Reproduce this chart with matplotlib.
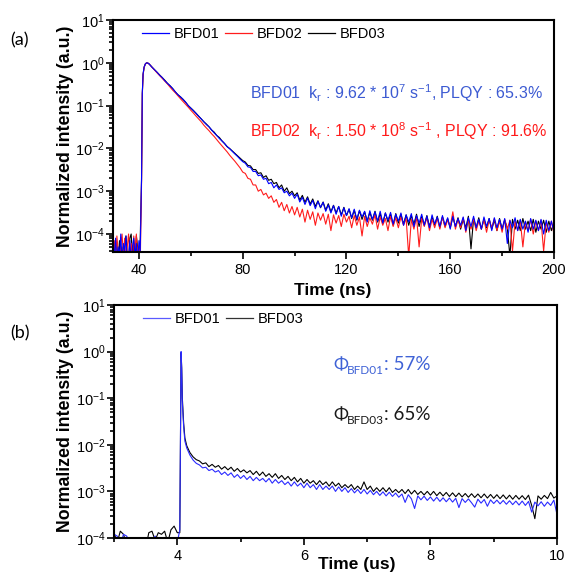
import numpy as np
import matplotlib
matplotlib.use('Agg')
import matplotlib.pyplot as plt
from matplotlib.ticker import LogLocator, MultipleLocator, NullFormatter, LogFormatterSciNotation
from matplotlib.lines import Line2D

plt.rcParams['font.family'] = ['Liberation Sans', 'DejaVu Sans']
plt.rcParams['mathtext.fontset'] = 'custom'
plt.rcParams['mathtext.rm'] = 'Liberation Sans'
plt.rcParams['mathtext.it'] = 'Liberation Sans:italic'
plt.rcParams['mathtext.bf'] = 'Liberation Sans:bold'

# ---------------- data: panel (a), time in ns ----------------
time_a = np.concatenate([np.linspace(30, 40.5, 22),
                         [41.0, 41.3, 41.6, 42.0, 42.5, 43.0, 43.5],
                         np.linspace(44, 200, 157)])

bfd01_a = [
    6e-5, 3e-5, 8e-5, 2e-5, 5e-5, 3e-5, 1e-4, 2e-5, 6e-5, 4e-5,
    9e-5, 2e-5, 3e-5, 7e-5, 2e-5, 5e-5, 8e-5, 3e-5, 6e-5, 2e-5,
    7e-5, 4e-5,
    2e-3, 0.2, 0.55, 0.8, 0.95, 1.0, 0.98,
    0.93, 0.79, 0.69, 0.60, 0.51, 0.45, 0.38, 0.33, 0.29, 0.25,
    0.21, 0.18, 0.16, 0.14, 0.12, 0.10, 0.087, 0.076, 0.066, 0.056,
    0.049, 0.042, 0.036, 0.032, 0.027, 0.023, 0.020, 0.017, 0.015, 0.013,
    0.011, 0.0098, 0.0085, 0.0074, 0.0065, 0.0056, 0.0049, 0.0045, 0.0037, 0.0036,
    0.0029, 0.0029, 0.0023, 0.0024, 0.0019, 0.0020, 0.0015, 0.0016, 0.0012, 0.0014,
    0.0011, 0.0012, 0.00092, 0.0010, 0.00078, 0.00090, 0.00068,
    8.5e-4, 5.6e-4, 7.2e-4, 4.9e-4, 6.9e-4, 4.6e-4, 6.1e-4, 3.9e-4, 5.8e-4, 4.2e-4,
    5.5e-4, 3.4e-4, 4.8e-4, 3.1e-4, 4.6e-4, 2.9e-4, 4.4e-4, 2.6e-4, 4.1e-4, 2.7e-4,
    3.9e-4, 2.4e-4, 3.8e-4, 2.2e-4, 3.6e-4, 2.5e-4, 3.4e-4, 1.9e-4, 3.5e-4, 2.2e-4,
    3.3e-4, 2.0e-4, 3.4e-4, 1.8e-4, 3.1e-4, 2.1e-4, 3.2e-4, 1.7e-4, 2.9e-4, 2.0e-4,
    3.1e-4, 1.6e-4, 2.8e-4, 1.9e-4, 3.0e-4, 1.5e-4, 2.7e-4, 1.8e-4, 2.9e-4, 1.6e-4,
    2.6e-4, 1.4e-4, 2.8e-4, 1.7e-4, 2.5e-4, 1.5e-4, 2.7e-4, 1.6e-4, 2.4e-4, 1.3e-4,
    2.6e-4, 1.5e-4, 2.3e-4, 1.6e-4, 2.5e-4, 1.2e-4, 2.4e-4, 1.5e-4, 2.6e-4, 1.4e-4,
    2.2e-4, 1.3e-4, 2.5e-4, 1.5e-4, 2.3e-4, 1.2e-4, 2.4e-4, 1.4e-4, 2.2e-4, 1.3e-4,
    2.3e-4, 6.0e-5, 2.1e-4, 1.4e-4, 2.4e-4, 1.2e-4, 2.2e-4, 1.3e-4, 2.0e-4, 1.1e-4,
    2.3e-4, 1.3e-4, 2.1e-4, 1.2e-4, 2.2e-4, 1.0e-4, 2.1e-4, 1.2e-4, 2.0e-4, 1.1e-4,
]

bfd02_a = [
    3e-5, 7e-5, 2e-5, 9e-5, 4e-5, 2e-5, 6e-5, 1e-4, 3e-5, 8e-5,
    2e-5, 5e-5, 1e-4, 3e-5, 6e-5, 2e-5, 9e-5, 4e-5, 1e-4, 3e-5,
    5e-5, 2e-5,
    1.5e-3, 0.18, 0.52, 0.78, 0.94, 1.0, 0.98,
    0.93, 0.79, 0.68, 0.58, 0.50, 0.43, 0.37, 0.32, 0.27, 0.23,
    0.20, 0.17, 0.145, 0.125, 0.107, 0.092, 0.078, 0.067, 0.057, 0.049,
    0.042, 0.035, 0.030, 0.026, 0.022, 0.019, 0.016, 0.0135, 0.0115, 0.0098,
    0.0083, 0.0069, 0.0059, 0.0050, 0.0042, 0.0035, 0.0028, 0.0026, 0.0020, 0.0019,
    0.0014, 0.0014, 0.0010, 0.0011, 0.00082, 0.00090, 0.00068, 0.00078, 0.00055, 0.00064,
    0.00042, 0.00055, 0.00035, 0.00049, 0.00031, 0.00044, 0.00028,
    4.2e-4, 2.5e-4, 3.8e-4, 1.9e-4, 3.6e-4, 2.2e-4, 3.3e-4, 1.6e-4, 3.1e-4, 2.1e-4,
    3.0e-4, 1.7e-4, 2.9e-4, 1.2e-4, 2.8e-4, 1.8e-4, 2.7e-4, 1.5e-4, 2.9e-4, 1.9e-4,
    2.6e-4, 1.4e-4, 2.7e-4, 1.6e-4, 2.5e-4, 9.0e-5, 2.6e-4, 1.5e-4, 2.4e-4, 1.7e-4,
    2.8e-4, 1.3e-4, 2.5e-4, 1.6e-4, 2.3e-4, 1.2e-4, 2.6e-4, 1.5e-4, 2.4e-4, 1.4e-4,
    2.5e-4, 1.6e-4, 2.3e-4, 3.0e-5, 2.2e-4, 1.3e-4, 2.5e-4, 5.0e-5, 2.3e-4, 1.5e-4,
    2.4e-4, 1.2e-4, 2.2e-4, 1.4e-4, 2.3e-4, 1.3e-4, 2.5e-4, 1.4e-4, 2.1e-4, 1.5e-4,
    3.3e-4, 1.3e-4, 2.2e-4, 1.4e-4, 2.4e-4, 1.1e-4, 2.1e-4, 1.3e-4, 2.3e-4, 1.2e-4,
    2.0e-4, 1.3e-4, 2.2e-4, 1.1e-4, 2.1e-4, 1.4e-4, 2.3e-4, 1.2e-4, 2.0e-4, 1.1e-4,
    2.2e-4, 1.3e-4, 2.1e-4, 4.0e-5, 2.0e-4, 1.2e-4, 2.1e-4, 5.0e-5, 1.9e-4, 1.2e-4,
    2.2e-4, 1.0e-4, 2.0e-4, 1.2e-4, 2.1e-4, 4.0e-5, 1.9e-4, 1.1e-4, 2.0e-4, 1.0e-4,
]

bfd03_a = [
    5e-5, 2e-5, 4e-5, 6e-5, 2e-5, 7e-5, 3e-5, 5e-5, 2e-5, 6e-5,
    9e-5, 3e-5, 2e-5, 8e-5, 1e-4, 3e-5, 6e-5, 2e-5, 9e-5, 5e-5,
    2e-5, 8e-5,
    1.8e-3, 0.19, 0.54, 0.79, 0.95, 1.0, 0.98,
    0.93, 0.80, 0.69, 0.60, 0.52, 0.45, 0.39, 0.33, 0.29, 0.25,
    0.21, 0.18, 0.16, 0.14, 0.12, 0.10, 0.088, 0.077, 0.066, 0.057,
    0.049, 0.042, 0.037, 0.032, 0.027, 0.024, 0.020, 0.018, 0.015, 0.013,
    0.011, 0.0099, 0.0087, 0.0076, 0.0067, 0.0059, 0.0052, 0.0048, 0.0040, 0.0039,
    0.0032, 0.0032, 0.0026, 0.0027, 0.0021, 0.0023, 0.0018, 0.0019, 0.0015, 0.0016,
    0.0012, 0.0014, 0.0010, 0.0012, 0.00088, 0.0010, 0.00078,
    9.2e-4, 6.2e-4, 8.0e-4, 5.5e-4, 7.4e-4, 5.0e-4, 6.6e-4, 4.4e-4, 6.0e-4, 4.1e-4,
    5.6e-4, 3.6e-4, 5.1e-4, 3.3e-4, 4.7e-4, 3.1e-4, 4.4e-4, 2.8e-4, 4.2e-4, 2.7e-4,
    3.8e-4, 2.3e-4, 3.6e-4, 2.1e-4, 3.5e-4, 2.2e-4, 3.3e-4, 2.0e-4, 3.2e-4, 2.1e-4,
    3.4e-4, 1.9e-4, 3.0e-4, 1.8e-4, 3.1e-4, 1.9e-4, 2.9e-4, 1.6e-4, 3.0e-4, 1.8e-4,
    2.9e-4, 1.7e-4, 2.8e-4, 1.6e-4, 2.7e-4, 1.7e-4, 2.9e-4, 1.5e-4, 2.6e-4, 1.6e-4,
    2.7e-4, 1.5e-4, 2.5e-4, 1.6e-4, 2.6e-4, 1.4e-4, 2.5e-4, 1.5e-4, 2.3e-4, 1.4e-4,
    2.5e-4, 1.5e-4, 2.4e-4, 1.3e-4, 2.2e-4, 1.4e-4, 2.6e-4, 4.5e-5, 2.3e-4, 1.4e-4,
    2.4e-4, 1.3e-4, 2.2e-4, 1.4e-4, 2.3e-4, 1.3e-4, 2.1e-4, 1.2e-4, 2.3e-4, 1.3e-4,
    2.1e-4, 1.4e-4, 3.0e-5, 2.2e-4, 1.3e-4, 2.1e-4, 1.2e-4, 2.3e-4, 1.3e-4, 2.0e-4,
    1.2e-4, 2.2e-4, 1.1e-4, 2.0e-4, 1.3e-4, 2.1e-4, 1.1e-4, 2.0e-4, 1.2e-4, 1.9e-4,
]

# ---------------- data: panel (b), time in us ----------------
time_b = np.concatenate([np.linspace(3.0, 4.0, 21),
                         [4.04, 4.06, 4.07, 4.08, 4.10, 4.12, 4.15, 4.20, 4.25, 4.30],
                         np.linspace(4.35, 10.0, 114)])

bfd01_b = [
    1.2e-4, 1.1e-4, 7e-5, 1.2e-4, 1.1e-4, 8e-5, 6e-5, 5e-5, 7e-5, 6e-5,
    5e-5, 6e-5, 7e-5, 1.1e-4, 8e-5, 6e-5, 7e-5, 5e-5, 6e-5, 7e-5, 8e-5,
    1.5e-4, 1.0, 0.4, 0.08, 0.025, 0.012, 0.0085, 0.0060, 0.0047, 0.0040,
    3.7e-3, 3.2e-3, 3.3e-3, 2.8e-3, 3.0e-3, 2.6e-3, 2.8e-3, 2.3e-3, 2.6e-3, 2.2e-3,
    2.5e-3, 2.0e-3, 2.3e-3, 1.9e-3, 2.2e-3, 1.8e-3, 2.1e-3, 1.7e-3, 2.0e-3, 1.7e-3,
    1.9e-3, 1.6e-3, 1.9e-3, 1.5e-3, 1.8e-3, 1.5e-3, 1.7e-3, 1.4e-3, 1.6e-3, 1.3e-3,
    1.6e-3, 1.3e-3, 1.5e-3, 1.2e-3, 1.5e-3, 1.2e-3, 1.4e-3, 1.1e-3, 1.4e-3, 1.1e-3,
    1.3e-3, 1.1e-3, 1.3e-3, 1.0e-3, 1.25e-3, 1.0e-3, 1.2e-3, 9.5e-4, 1.15e-3, 9.3e-4,
    1.1e-3, 9.0e-4, 1.1e-3, 8.8e-4, 1.05e-3, 8.5e-4, 1.0e-3, 8.2e-4, 9.8e-4, 8.0e-4,
    9.6e-4, 7.8e-4, 9.2e-4, 7.5e-4, 8.8e-4, 5.8e-4, 8.5e-4, 6.9e-4, 4.3e-4, 8.0e-4,
    6.6e-4, 7.9e-4, 6.4e-4, 7.6e-4, 6.2e-4, 7.5e-4, 6.1e-4, 7.3e-4, 6.0e-4, 7.2e-4,
    5.9e-4, 7.1e-4, 4.5e-4, 7.0e-4, 5.8e-4, 6.9e-4, 5.7e-4, 4.6e-4, 6.8e-4, 5.6e-4,
    6.7e-4, 4.8e-4, 6.6e-4, 5.5e-4, 6.5e-4, 5.4e-4, 6.4e-4, 5.3e-4, 6.3e-4, 5.2e-4,
    6.2e-4, 5.1e-4, 6.2e-4, 5.0e-4, 6.1e-4, 3.6e-4, 5.9e-4, 4.9e-4, 6.0e-4, 4.8e-4,
    5.9e-4, 5.0e-4, 6.5e-4, 3.2e-4,
]

bfd03_b = [
    1.3e-4, 8e-5, 1.4e-4, 1.2e-4, 7e-5, 9e-5, 6e-5, 8e-5, 5e-5, 7e-5,
    6e-5, 1.3e-4, 1.4e-4, 9e-5, 1.3e-4, 1.2e-4, 1.4e-4, 8e-5, 1.5e-4, 1.8e-4, 1.3e-4,
    1.3e-4, 0.95, 0.45, 0.1, 0.03, 0.014, 0.0095, 0.0068, 0.0055, 0.0048,
    4.5e-3, 3.9e-3, 4.1e-3, 3.4e-3, 3.8e-3, 3.3e-3, 3.6e-3, 3.0e-3, 3.4e-3, 2.9e-3,
    3.3e-3, 2.7e-3, 3.1e-3, 2.6e-3, 2.9e-3, 2.5e-3, 2.8e-3, 2.3e-3, 2.7e-3, 2.2e-3,
    2.6e-3, 2.1e-3, 2.4e-3, 2.0e-3, 2.4e-3, 1.9e-3, 2.2e-3, 1.8e-3, 2.1e-3, 1.7e-3,
    2.0e-3, 1.6e-3, 1.9e-3, 1.5e-3, 1.8e-3, 1.5e-3, 1.7e-3, 1.4e-3, 1.7e-3, 1.4e-3,
    1.6e-3, 1.3e-3, 1.6e-3, 1.3e-3, 1.5e-3, 1.2e-3, 1.4e-3, 1.2e-3, 1.4e-3, 1.1e-3,
    1.3e-3, 1.1e-3, 1.6e-3, 1.1e-3, 1.3e-3, 1.0e-3, 1.2e-3, 1.0e-3, 1.2e-3, 9.8e-4,
    1.2e-3, 9.5e-4, 1.1e-3, 9.4e-4, 1.1e-3, 9.0e-4, 1.1e-3, 8.8e-4, 1.05e-3, 8.6e-4,
    1.0e-3, 8.4e-4, 1.0e-3, 8.3e-4, 1.0e-3, 8.1e-4, 9.6e-4, 8.0e-4, 9.5e-4, 7.8e-4,
    9.3e-4, 7.7e-4, 9.2e-4, 7.6e-4, 9.0e-4, 7.5e-4, 8.9e-4, 7.4e-4, 8.8e-4, 7.3e-4,
    8.8e-4, 7.2e-4, 8.6e-4, 7.1e-4, 8.5e-4, 7.0e-4, 8.4e-4, 6.9e-4, 8.3e-4, 6.8e-4,
    8.2e-4, 6.8e-4, 8.1e-4, 6.7e-4, 8.3e-4, 5.0e-4, 2.6e-4, 8.0e-4, 6.8e-4, 8.2e-4,
    7.0e-4, 9.5e-4, 7.2e-4, 8.0e-4,
]

labels_a = ['BFD01', 'BFD02', 'BFD03']
labels_b = ['BFD01', 'BFD03']
ticks_a = [40, 80, 120, 160, 200]
ticks_b = [4, 6, 8, 10]

# ---------------- figure ----------------
W, H = 569, 575
fig = plt.figure(figsize=(W / 100, H / 100), dpi=100)


def fx(x):
    return x / W


def fy(y):
    return 1 - y / H


def ax_at(l, t, r, b):
    return fig.add_axes([fx(l), fy(b), (r - l) / W, (b - t) / H])


def style(ax):
    ax.set_yscale('log')
    for s in ax.spines.values():
        s.set_linewidth(1.5)
    ax.tick_params(which='both', direction='out', top=False, right=False,
                   width=1.2, labelsize=10.5, colors='black')
    ax.tick_params(axis='x', which='both', pad=3)
    ax.tick_params(axis='y', which='both', pad=1)
    ax.tick_params(which='major', length=5)
    ax.tick_params(which='minor', length=3)
    ax.yaxis.set_major_locator(LogLocator(base=10, numticks=12))
    ax.yaxis.set_minor_locator(LogLocator(base=10, subs=np.arange(2, 10), numticks=12))
    ax.yaxis.set_major_formatter(LogFormatterSciNotation())
    ax.yaxis.set_minor_formatter(NullFormatter())


BLUE = '#0000ff'
RED = '#ff1c1c'
BLACK = '#000000'
BLUE_B = '#2a2aff'

# panel (a)
axa = ax_at(113, 20, 554, 252)
style(axa)
axa.plot(time_a, bfd03_a, color=BLACK, lw=0.8)
axa.plot(time_a, bfd02_a, color=RED, lw=0.8)
axa.plot(time_a, bfd01_a, color=BLUE, lw=0.8)
axa.set_xlim(30, 200)
axa.set_ylim(3.8e-5, 10)
axa.set_xticks(ticks_a)
axa.xaxis.set_minor_locator(MultipleLocator(20))
hands_a = [Line2D([], [], color=BLUE, lw=0.9), Line2D([], [], color=RED, lw=0.9),
           Line2D([], [], color=BLACK, lw=0.9)]
axa.legend(hands_a, labels_a, loc='upper left', bbox_to_anchor=(fx(142), fy(27)),
           bbox_transform=fig.transFigure, ncol=3, frameon=False, fontsize=10.5,
           handlelength=1.85, handletextpad=0.35, columnspacing=0.35,
           borderaxespad=0, borderpad=0)

TXT_BLUE = '#3c5ad2'
TXT_RED = '#ff1a1a'
fig.text(fx(250), fy(99),
         r'BFD01  k$_\mathregular{r}$ : 9.62 * 10$^\mathregular{7}$ s$^\mathregular{-1}$, PLQY : 65.3%',
         color=TXT_BLUE, fontsize=11.5, ha='left', va='baseline')
fig.text(fx(250), fy(137),
         r'BFD02  k$_\mathregular{r}$ : 1.50 * 10$^\mathregular{8}$ s$^\mathregular{-1}$ , PLQY : 91.6%',
         color=TXT_RED, fontsize=11.5, ha='left', va='baseline')

# panel (b)
axb = ax_at(114, 305, 557, 538)
style(axb)
axb.plot(time_b, bfd03_b, color=BLACK, lw=0.8)
axb.plot(time_b, bfd01_b, color=BLUE_B, lw=0.8)
axb.set_xlim(3, 10)
axb.set_ylim(1e-4, 10)
axb.set_xticks(ticks_b)
axb.xaxis.set_minor_locator(MultipleLocator(1))
hands_b = [Line2D([], [], color='#5a5aff', lw=0.9), Line2D([], [], color='#333333', lw=0.9)]
axb.legend(hands_b, labels_b, loc='upper left', bbox_to_anchor=(fx(143), fy(312)),
           bbox_transform=fig.transFigure, ncol=2, frameon=False, fontsize=10.5,
           handlelength=1.85, handletextpad=0.35, columnspacing=0.35,
           borderaxespad=0, borderpad=0)

PHI_FONT = ['Lato', 'DejaVu Sans']
for (yb, name, val, col) in [(370, 'BFD01', ': 57%', '#3f62d6'), (420, 'BFD03', ': 65%', '#1a1a1a')]:
    fig.text(fx(333), fy(yb), '\u03a6', color=col, fontsize=13, family=PHI_FONT,
             ha='left', va='baseline')
    fig.text(fx(347), fy(yb + 4), name, color=col, fontsize=8.5, family=PHI_FONT,
             ha='left', va='baseline')
    fig.text(fx(384), fy(yb), val, color=col, fontsize=13.5, family=PHI_FONT,
             ha='left', va='baseline')

# axis labels
for yc in (136, 421):
    fig.text(fx(65), fy(yc), 'Normalized intensity (a.u.)', rotation=90, ha='center',
             va='center', fontweight='bold', fontsize=12.8)
fig.text(fx(333), fy(290), 'Time (ns)', ha='center', va='center', fontweight='bold', fontsize=12.5)
fig.text(fx(357), fy(564), 'Time (us)', ha='center', va='center', fontweight='bold', fontsize=12.5)

# panel letters
fig.text(fx(10), fy(40), '(a)', ha='left', va='center', fontsize=13, family=['Lato', 'DejaVu Sans'])
fig.text(fx(10), fy(333), '(b)', ha='left', va='center', fontsize=13, family=['Lato', 'DejaVu Sans'])

fig.savefig('out.png', dpi=100)
